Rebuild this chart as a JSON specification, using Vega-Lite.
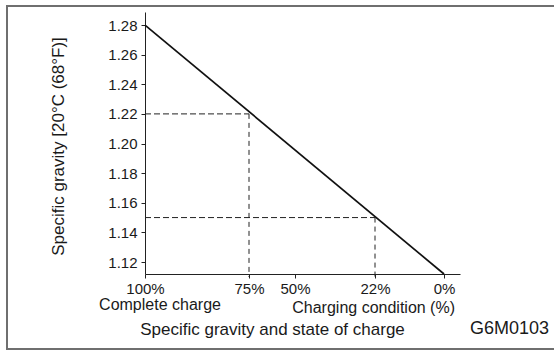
{
  "$schema": "https://vega.github.io/schema/vega-lite/v6.json",
  "width": 548,
  "height": 343,
  "autosize": {"type": "none"},
  "padding": {"left": 7, "top": 6, "right": 0, "bottom": 3},
  "background": "white",
  "config": {
    "view": {"stroke": "#6f6f6f", "strokeWidth": 2},
    "font": "Liberation Sans",
    "axis": {"grid": false, "domainColor": "#222", "tickColor": "#222", "labelColor": "#1a1a1a", "titleColor": "#1a1a1a", "titleFontWeight": "normal"}
  },
  "datasets": {
    "curve": [{"charge": 100, "sg": 1.28}, {"charge": 0, "sg": 1.1119}],
    "guides": [{"full": 100, "charge": 75, "sg": 1.22, "base": 1.1099}, {"full": 100, "charge": 22, "sg": 1.15, "base": 1.1099}],
    "notes": [
      {"charge": 100, "sg": 1.1119, "label": "Complete charge"},
      {"charge": 0, "sg": 1.1119, "label": "Charging condition (%)"},
      {"charge": 0, "sg": 1.1119, "label": "G6M0103"}
    ]
  },
  "layer": [
    {
      "data": {"name": "curve"},
      "mark": {"type": "line", "color": "#111", "strokeWidth": 1.7},
      "encoding": {
        "x": {
          "field": "charge",
          "type": "quantitative",
          "scale": {"domain": [100, 75, 50, 22, 0, -5], "range": [138, 242, 288, 368, 437, 453], "nice": false, "zero": false},
          "axis": {
            "orient": "bottom",
            "offset": -75,
            "values": [100, 75, 50, 22, 0],
            "labelExpr": "datum.value + '%'",
            "tickSize": 4,
            "labelPadding": 3,
            "labelFontSize": 15,
            "labelFlush": false,
            "labelOverlap": false,
            "title": "Specific gravity and state of charge",
            "titleFontSize": 17,
            "titleX": 265,
            "titleY": 55,
            "titleAlign": "center",
            "titleBaseline": "middle"
          }
        },
        "y": {
          "field": "sg",
          "type": "quantitative",
          "scale": {"domain": [1.1119, 1.2888], "range": [268, 6], "nice": false, "zero": false},
          "axis": {
            "orient": "left",
            "offset": -138,
            "values": [1.12, 1.14, 1.16, 1.18, 1.2, 1.22, 1.24, 1.26, 1.28],
            "format": ".2f",
            "tickSize": 4,
            "labelPadding": 4,
            "labelFontSize": 15,
            "title": "Specific gravity [20°C (68°F)]",
            "titleFontSize": 17,
            "titleAngle": -90,
            "titleX": -87,
            "titleY": 140,
            "titleAlign": "center",
            "titleBaseline": "middle"
          }
        }
      }
    },
    {
      "data": {"name": "guides"},
      "mark": {"type": "rule", "strokeDash": [6, 3], "strokeWidth": 1, "color": "#222"},
      "encoding": {
        "x": {"field": "full", "type": "quantitative"},
        "x2": {"field": "charge"},
        "y": {"field": "sg", "type": "quantitative"}
      }
    },
    {
      "data": {"name": "guides"},
      "mark": {"type": "rule", "strokeDash": [5, 4], "strokeWidth": 1, "color": "#222"},
      "encoding": {
        "x": {"field": "charge", "type": "quantitative"},
        "y": {"field": "sg", "type": "quantitative"},
        "y2": {"field": "base"}
      }
    },
    {
      "data": {"name": "notes"},
      "transform": [{"filter": "datum.label == 'Complete charge'"}],
      "mark": {"type": "text", "align": "center", "baseline": "middle", "dx": 15, "dy": 31, "fontSize": 16, "color": "#1a1a1a"},
      "encoding": {
        "x": {"field": "charge", "type": "quantitative"},
        "y": {"field": "sg", "type": "quantitative"},
        "text": {"field": "label"}
      }
    },
    {
      "data": {"name": "notes"},
      "transform": [{"filter": "datum.label == 'Charging condition (%)'"}],
      "mark": {"type": "text", "align": "right", "baseline": "middle", "dx": 11, "dy": 34, "fontSize": 16, "color": "#1a1a1a"},
      "encoding": {
        "x": {"field": "charge", "type": "quantitative"},
        "y": {"field": "sg", "type": "quantitative"},
        "text": {"field": "label"}
      }
    },
    {
      "data": {"name": "notes"},
      "transform": [{"filter": "datum.label == 'G6M0103'"}],
      "mark": {"type": "text", "align": "right", "baseline": "middle", "dx": 105, "dy": 55, "fontSize": 18, "color": "#1a1a1a"},
      "encoding": {
        "x": {"field": "charge", "type": "quantitative"},
        "y": {"field": "sg", "type": "quantitative"},
        "text": {"field": "label"}
      }
    }
  ]
}
